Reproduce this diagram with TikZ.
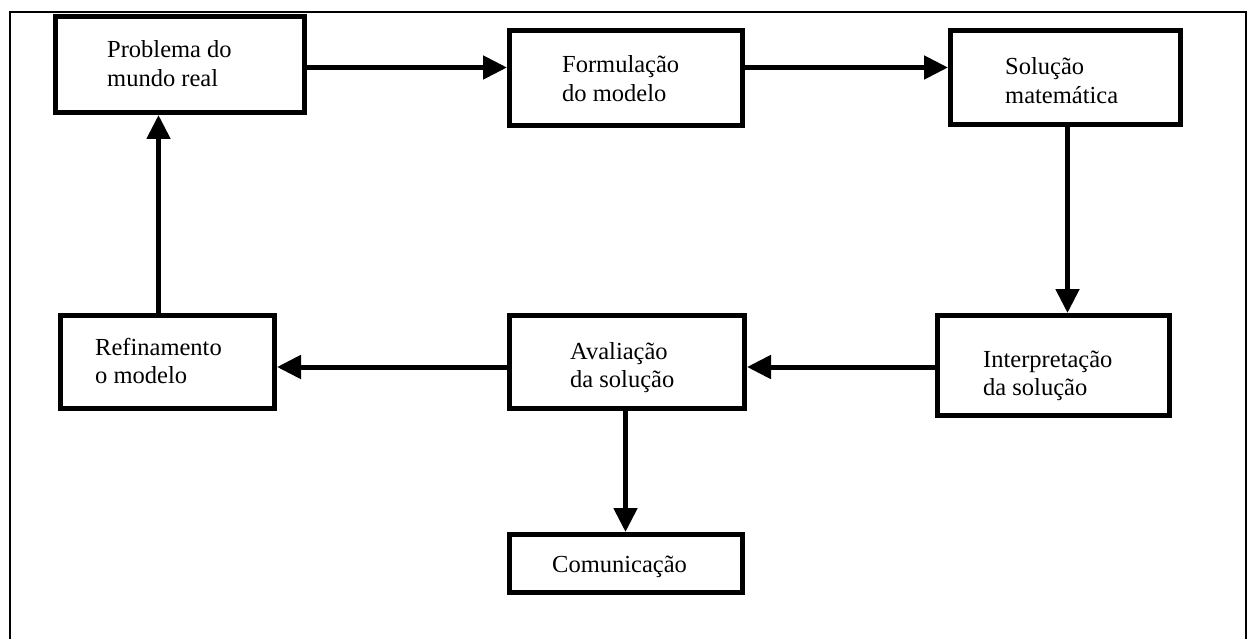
\documentclass[tikz,border=0pt]{standalone}
\usepackage{fontspec}
\setmainfont{Liberation Serif}
\usetikzlibrary{arrows.meta}
\newcommand{\twolines}[2]{\begin{tabular}[t]{@{}l@{}}#1\\#2\end{tabular}}
\begin{document}
\begin{tikzpicture}[x=1pt,y=-1pt,
  box/.style={draw=black,line width=5pt,rectangle,inner sep=0pt,fill=white},
  txt/.style={anchor=base west,inner sep=0pt,font=\fontsize{24.5}{28.5}\selectfont},
  arr/.style={line width=5pt,-{Triangle[length=24pt,width=23pt]}}]
\useasboundingbox (0,0) rectangle (1248,639);
% outer frame (bottom edge lies outside the picture)
\draw[line width=2.5pt] (10,645) -- (10,12) -- (1246,12) -- (1246,645);
% boxes
\node[box,minimum width=249pt,minimum height=95.5pt] (b1) at (180,64.75) {};
\node[box,minimum width=233pt,minimum height=95pt] (b2) at (626,78) {};
\node[box,minimum width=230pt,minimum height=94.5pt] (b3) at (1065.5,77.75) {};
\node[box,minimum width=214pt,minimum height=93pt] (b4) at (167.5,362) {};
\node[box,minimum width=235pt,minimum height=93pt] (b5) at (627,362) {};
\node[box,minimum width=232pt,minimum height=100pt] (b6) at (1053.5,365.5) {};
\node[box,minimum width=233pt,minimum height=58pt] (b7) at (626,563.5) {};
% texts
\node[txt] (t1) at (107,58) {\twolines{Problema do}{mundo real}};
\node[txt] (t2) at (562,73) {\twolines{Formulação}{do modelo}};
\node[txt] (t3) at (1005,75) {\twolines{Solução}{matemática}};
\node[txt] (t4) at (95,355) {\twolines{Refinamento}{o modelo}};
\node[txt] (t5) at (570,359) {\twolines{Avaliação}{da solução}};
\node[txt] (t6) at (983,367) {\twolines{Interpretação}{da solução}};
\node[txt] (t7) at (552,572) {Comunicação};
% connector guide coordinates
\coordinate (rowtop) at (0,67.5);
\coordinate (rowmid) at (0,367);
\coordinate (colA) at (158.5,0);
\coordinate (colB) at (1067.5,0);
\coordinate (colC) at (625.5,0);
% connectors
\draw[arr] (b1.east |- rowtop) -- (b2.west |- rowtop);
\draw[arr] (b2.east |- rowtop) -- (b3.west |- rowtop);
\draw[arr] (b3.south -| colB) -- (b6.north -| colB);
\draw[arr] (b6.west |- rowmid) -- (b5.east |- rowmid);
\draw[arr] (b5.west |- rowmid) -- (b4.east |- rowmid);
\draw[arr] (b4.north -| colA) -- (b1.south -| colA);
\draw[arr] (b5.south -| colC) -- (b7.north -| colC);
\end{tikzpicture}
\end{document}
